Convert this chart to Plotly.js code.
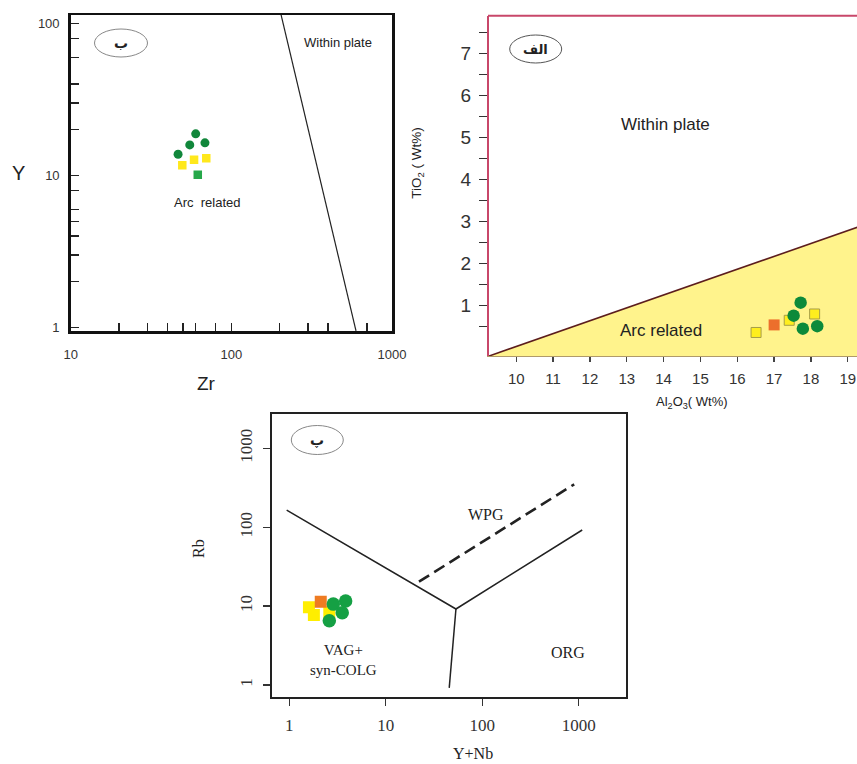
<!DOCTYPE html>
<html>
<head>
<meta charset="utf-8">
<script src="https://cdn.plot.ly/plotly-3.0.1.min.js"></script>
<style>
  html, body { margin: 0; padding: 0; background: #ffffff; }
  #chart { width: 857px; height: 764px; }
</style>
</head>
<body>
<div id="chart"></div>
<script>
// ---------- Diagram "ب": Zr vs Y (log-log) ----------
const zrYCircleZr = [60.0, 55.1, 68.5, 46.6];
const zrYCircleY = [18.8, 15.9, 16.4, 13.8];
const zrYYellowZr = [49.5, 58.6, 69.8];
const zrYYellowY = [11.7, 12.7, 13.0];
const zrYGreenSqZr = [61.8];
const zrYGreenSqY = [10.1];
const zrYBoundaryZr = [204, 597];
const zrYBoundaryY = [114, 0.95];
const zrMajorTicks = [10, 100, 1000];
const zrMinorTicks = [20, 30, 40, 50, 60, 80, 200, 300, 400, 700];
const yMajorTicks = [1, 10, 100];
const yMinorTicks = [2, 3, 4, 5, 6, 8, 20, 30, 40, 60, 80];

// ---------- Diagram "الف": Al2O3 vs TiO2 ----------
const alYellowAl = [16.51, 17.41, 18.10];
const alYellowTi = [0.36, 0.65, 0.80];
const alOrangeAl = [17.0];
const alOrangeTi = [0.54];
const alCircleAl = [17.72, 17.53, 17.78, 18.17];
const alCircleTi = [1.07, 0.76, 0.45, 0.51];
const alBoundaryAl = [9, 20];
const alBoundaryTi = [-0.28, 3.09];
const alTickVals = [10, 11, 12, 13, 14, 15, 16, 17, 18, 19];
const tiMajorTicks = [1, 2, 3, 4, 5, 6, 7];
const tiMinorTicks = [0.5, 1.5, 2.5, 3.5, 4.5, 5.5, 6.5, 7.5];

// ---------- Diagram "پ": Y+Nb vs Rb (log-log) ----------
const ynbYellowX = [1.60, 1.80, 2.60];
const ynbYellowRb = [9.66, 7.71, 8.34];
const ynbOrangeX = [2.12];
const ynbOrangeRb = [11.4];
const ynbCircleX = [2.86, 3.84, 3.54, 2.60];
const ynbCircleRb = [10.6, 11.6, 8.25, 6.53];
const ynbUpperX = [0.94, 53.4, 1087];
const ynbUpperRb = [165, 9.19, 92.2];
const ynbLowerX = [53.4, 45.5];
const ynbLowerRb = [9.19, 0.92];
const ynbDashX = [22.1, 898];
const ynbDashRb = [20.4, 350];
const ynbTickVals = [1, 10, 100, 1000];

// page pixel -> paper fraction helpers
const W = 857, H = 764;
const px = v => v / W;
const py = v => 1 - v / H;

const sans = 'Liberation Sans, Arial, sans-serif';
const serif = 'Liberation Serif, Times New Roman, serif';
const arabic = 'DejaVu Sans, Noto Sans, sans-serif';

const traces = [
  // ب
  { x: zrYBoundaryZr, y: zrYBoundaryY, xaxis: 'x2', yaxis: 'y2', mode: 'lines',
    line: { color: '#222', width: 1.2 } },
  { x: zrYCircleZr, y: zrYCircleY, xaxis: 'x2', yaxis: 'y2', mode: 'markers',
    marker: { symbol: 'circle', size: 9, color: '#11873b' } },
  { x: zrYYellowZr, y: zrYYellowY, xaxis: 'x2', yaxis: 'y2', mode: 'markers',
    marker: { symbol: 'square', size: 8.5, color: '#ffe81c' } },
  { x: zrYGreenSqZr, y: zrYGreenSqY, xaxis: 'x2', yaxis: 'y2', mode: 'markers',
    marker: { symbol: 'square', size: 8.5, color: '#26a84a' } },

  // الف
  { x: [alBoundaryAl[0], alBoundaryAl[1], alBoundaryAl[1], alBoundaryAl[0]],
    y: [alBoundaryTi[0], alBoundaryTi[1], -1, -1],
    xaxis: 'x', yaxis: 'y', mode: 'lines', fill: 'toself',
    fillcolor: '#fff38c', line: { width: 0 } },
  { x: alBoundaryAl, y: alBoundaryTi, xaxis: 'x', yaxis: 'y', mode: 'lines',
    line: { color: '#5c1d1d', width: 1.6 } },
  { x: alYellowAl, y: alYellowTi, xaxis: 'x', yaxis: 'y', mode: 'markers',
    marker: { symbol: 'square', size: 10, color: '#ffee1e', line: { color: '#a69d48', width: 1 } } },
  { x: alOrangeAl, y: alOrangeTi, xaxis: 'x', yaxis: 'y', mode: 'markers',
    marker: { symbol: 'square', size: 11, color: '#ec6f2c' } },
  { x: alCircleAl, y: alCircleTi, xaxis: 'x', yaxis: 'y', mode: 'markers',
    marker: { symbol: 'circle', size: 12.5, color: '#0c8a3a' } },

  // پ
  { x: ynbUpperX, y: ynbUpperRb, xaxis: 'x3', yaxis: 'y3', mode: 'lines',
    line: { color: '#222', width: 1.5 } },
  { x: ynbLowerX, y: ynbLowerRb, xaxis: 'x3', yaxis: 'y3', mode: 'lines',
    line: { color: '#222', width: 1.5 } },
  { x: ynbDashX, y: ynbDashRb, xaxis: 'x3', yaxis: 'y3', mode: 'lines',
    line: { color: '#222', width: 2.6, dash: '12px,6px' } },
  { x: ynbYellowX, y: ynbYellowRb, xaxis: 'x3', yaxis: 'y3', mode: 'markers',
    marker: { symbol: 'square', size: 12, color: '#ffee00' } },
  { x: ynbOrangeX, y: ynbOrangeRb, xaxis: 'x3', yaxis: 'y3', mode: 'markers',
    marker: { symbol: 'square', size: 12, color: '#ee7b22' } },
  { x: ynbCircleX, y: ynbCircleRb, xaxis: 'x3', yaxis: 'y3', mode: 'markers',
    marker: { symbol: 'circle', size: 13.5, color: '#15a044' } }
];

function ellipse(cx, cy, w, h, color) {
  return { type: 'circle', xref: 'paper', yref: 'paper',
    x0: px(cx - w / 2), x1: px(cx + w / 2), y0: py(cy + h / 2), y1: py(cy - h / 2),
    line: { color: color, width: 1 }, fillcolor: 'rgba(0,0,0,0)' };
}

function label(text, x, y, size, family, extra) {
  return Object.assign({ text: text, xref: 'paper', yref: 'paper', x: px(x), y: py(y),
    xanchor: 'center', yanchor: 'middle', showarrow: false,
    font: { size: size, family: family, color: '#222' } }, extra || {});
}

const layout = {
  width: W, height: H,
  margin: { l: 0, r: 0, t: 0, b: 0 },
  paper_bgcolor: '#ffffff', plot_bgcolor: 'rgba(0,0,0,0)',
  showlegend: false, hovermode: false,

  // الف axes
  xaxis: { domain: [px(489), 1], anchor: 'y', range: [9.26, 19.25],
    tickvals: alTickVals, ticks: 'outside', ticklen: 5, tickwidth: 1.3, tickcolor: '#444',
    showline: true, linecolor: '#b09a6a', linewidth: 1, showgrid: false, zeroline: false,
    tickfont: { family: sans, size: 15, color: '#333' }, ticklabelstandoff: 4 },
  yaxis: { domain: [py(356), py(15.7)], anchor: 'x', range: [-0.2, 7.9],
    tickvals: tiMajorTicks, ticks: 'outside', ticklen: 8, tickwidth: 1.5,
    tickcolor: '#333', showline: true, linecolor: '#c8476a', linewidth: 2,
    showgrid: false, zeroline: false,
    minor: { tickmode: 'array', tickvals: tiMinorTicks, ticks: 'outside', ticklen: 8,
      tickwidth: 1.5, tickcolor: '#333', showgrid: false },
    tickfont: { family: sans, size: 19, color: '#333' }, ticklabelstandoff: 4 },

  // ب axes
  xaxis2: { domain: [px(70.7), px(392)], anchor: 'y2', type: 'log', range: [1, 3],
    tickvals: zrMajorTicks, ticktext: zrMajorTicks.map(String), ticks: 'inside', ticklen: 8,
    tickwidth: 1.3, tickcolor: '#222', showline: true, mirror: true, linecolor: '#111',
    linewidth: 2.5, showgrid: false, zeroline: false,
    minor: { tickmode: 'array', tickvals: zrMinorTicks, ticks: 'inside', ticklen: 8,
      tickwidth: 1.3, tickcolor: '#222', showgrid: false },
    tickfont: { family: sans, size: 13, color: '#333' }, ticklabelstandoff: 10 },
  yaxis2: { domain: [py(331), py(15)], anchor: 'x2', type: 'log', range: [-0.023, 2.056],
    tickvals: yMajorTicks, ticktext: yMajorTicks.map(String), ticks: 'inside', ticklen: 8,
    tickwidth: 1.3, tickcolor: '#222', showline: true, mirror: true, linecolor: '#111',
    linewidth: 2.5, showgrid: false, zeroline: false,
    minor: { tickmode: 'array', tickvals: yMinorTicks, ticks: 'inside', ticklen: 8,
      tickwidth: 1.3, tickcolor: '#222', showgrid: false },
    tickfont: { family: sans, size: 13, color: '#333' }, ticklabelstandoff: 6 },

  // پ axes
  xaxis3: { domain: [px(271.7), px(625.7)], anchor: 'y3', type: 'log', range: [-0.182, 3.487],
    tickvals: ynbTickVals, ticktext: ynbTickVals.map(String), ticks: 'outside', ticklen: 7,
    tickwidth: 1.3, tickcolor: '#333', showline: true, mirror: true, linecolor: '#222',
    linewidth: 2, showgrid: false, zeroline: false,
    tickfont: { family: serif, size: 17, color: '#333' }, ticklabelstandoff: 5 },
  yaxis3: { domain: [py(696.7), py(414.3)], anchor: 'x3', type: 'log', range: [-0.148, 3.431],
    tickvals: ynbTickVals, ticktext: ynbTickVals.map(String), ticks: 'outside', ticklen: 7,
    tickwidth: 1.3, tickcolor: '#333', tickangle: -90, showline: true, mirror: true,
    linecolor: '#222', linewidth: 2, showgrid: false, zeroline: false,
    tickfont: { family: serif, size: 17, color: '#333' }, ticklabelstandoff: 4 },

  shapes: [
    // top frame edge of الف
    { type: 'line', xref: 'paper', yref: 'paper', x0: px(488), x1: 1, y0: py(15.7), y1: py(15.7),
      line: { color: '#c8476a', width: 2 } },
    ellipse(121, 43, 53, 28, '#888'),
    ellipse(535.7, 49, 52, 28, '#555'),
    ellipse(317.3, 440, 52, 29, '#888')
  ],

  annotations: [
    // ب
    label('Y', 18, 173, 20, sans),
    label('Zr', 206, 383, 19, sans),
    label('Within plate', 338, 42, 13, sans),
    label('Arc  related', 207, 202, 13, sans),
    label('<b>ب</b>', 121, 43, 14, arabic),
    // الف
    label('TiO<sub>2</sub> ( Wt%)', 416.7, 163, 13.5, sans, { textangle: -90 }),
    label('Al<sub>2</sub>O<sub>3</sub>( Wt%)', 692, 402, 13, sans),
    label('Within plate', 665, 124, 17, sans),
    label('Arc related', 661, 330.7, 17, sans),
    label('<b>الف</b>', 535.7, 49, 13, arabic),
    // پ
    label('WPG', 486, 514.3, 16, serif),
    label('ORG', 567.7, 652.7, 16, serif),
    label('VAG+<br>syn-COLG', 343, 660, 15, serif),
    label('<b>پ</b>', 317.3, 440, 14, arabic),
    label('Rb', 198, 549, 16, serif, { textangle: -90 }),
    label('Y+Nb', 473, 753, 16, serif)
  ]
};

Plotly.newPlot('chart', traces, layout, { staticPlot: true, displayModeBar: false });
</script>
</body>
</html>
